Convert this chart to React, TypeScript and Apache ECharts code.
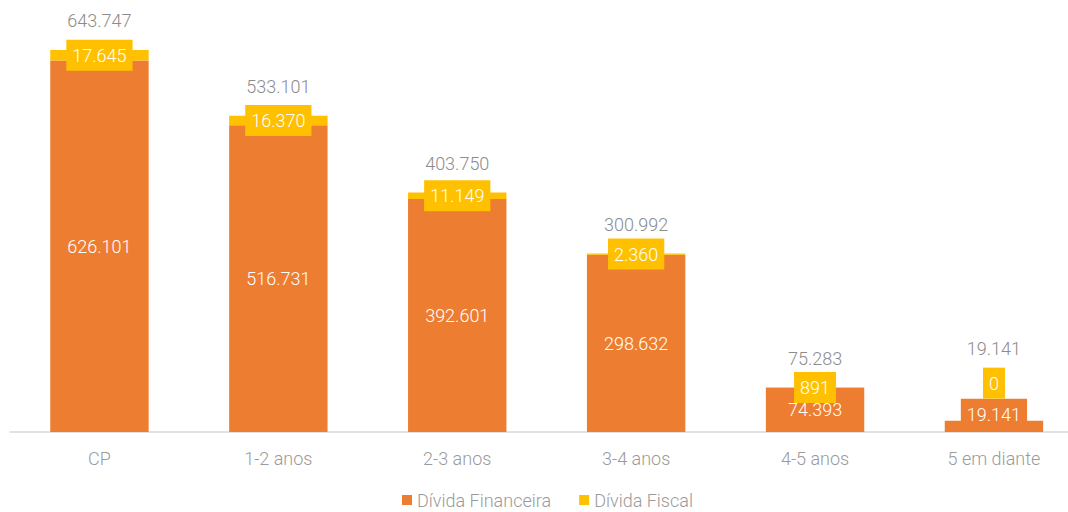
import React, { useEffect, useRef } from "react";
import * as echarts from "echarts";

const categories = ["CP", "1-2 anos", "2-3 anos", "3-4 anos", "4-5 anos", "5 em diante"];
const financeira = [626101, 516731, 392601, 298632, 74393, 19141];
const fiscal = [17645, 16370, 11149, 2360, 891, 0];
const totals = [643747, 533101, 403750, 300992, 75283, 19141];

const ORANGE = "#ED7D31";
const YELLOW = "#FFC000";
const FONT = "Roboto";

const fmt = (v: number) => String(v).replace(/\B(?=(\d{3})+(?!\d))/g, ".");

export default function App() {
  const ref = useRef<HTMLDivElement>(null);
  useEffect(() => {
    if (!ref.current) return;
    const chart = echarts.init(ref.current, undefined, { renderer: "svg" });
    const last = categories.length - 1;
    const labelBase = {
      show: true,
      color: "#ffffff",
      fontFamily: FONT,
      fontWeight: 300,
      fontSize: 18,
      padding: [7, 6, 6, 6],
      formatter: (p: any) => fmt(p.value),
    };
    chart.setOption({
      animation: false,
      textStyle: { fontFamily: FONT },
      grid: { left: 10, right: 16.6, top: 16.6, bottom: 80, containLabel: false },
      legend: {
        data: ["Dívida Financeira", "Dívida Fiscal"],
        bottom: -2,
        left: 397,
        icon: "rect",
        itemWidth: 10,
        itemHeight: 10,
        itemGap: 28,
        textStyle: { color: "#9a9a9a", fontSize: 18, fontFamily: FONT, fontWeight: 300 },
      },
      xAxis: {
        type: "category",
        data: categories,
        axisLine: { lineStyle: { color: "#d9d9d9", width: 1.5 } },
        axisTick: { show: false },
        axisLabel: { color: "#9a9a9a", fontSize: 18, fontFamily: FONT, fontWeight: 300, margin: 17 },
      },
      yAxis: { type: "value", min: 0, max: 700000, show: false, splitLine: { show: false } },
      series: [
        {
          name: "Dívida Financeira",
          type: "bar",
          stack: "a",
          barWidth: "55%",
          barGap: "-100%",
          itemStyle: { color: ORANGE },
          label: { ...labelBase, position: "inside", backgroundColor: ORANGE },
          data: financeira.map((v, i) =>
            i === last ? { value: v, label: { position: "top", distance: -9 } } : v
          ),
        },
        {
          name: "Dívida Fiscal",
          type: "bar",
          stack: "a",
          barWidth: "55%",
          barGap: "-100%",
          itemStyle: { color: YELLOW },
          label: { ...labelBase, position: "inside", backgroundColor: YELLOW },
          data: fiscal.map((v, i) =>
            i === last ? { value: v, label: { position: "top", distance: 22 } } : v
          ),
        },
        {
          name: "Total",
          type: "bar",
          barWidth: "55%",
          barGap: "-100%",
          silent: true,
          itemStyle: { color: "rgba(0,0,0,0)" },
          label: {
            show: true,
            position: "top",
            distance: 20,
            color: "#8c8c8c",
            fontSize: 18,
            fontFamily: FONT,
            fontWeight: 300,
            formatter: (p: any) => fmt(p.value),
          },
          z: 1,
          data: totals.map((v, i) =>
            i === last ? { value: v, label: { distance: 63 } } : v
          ),
        },
      ],
    });
    return () => chart.dispose();
  }, []);
  return (
    <div style={{ position: "absolute", left: 0, top: 0, width: 1068, height: 512, overflow: "hidden", background: "#fff" }}>
      <div ref={ref} style={{ width: 1100, height: 512 }} />
    </div>
  );
}
